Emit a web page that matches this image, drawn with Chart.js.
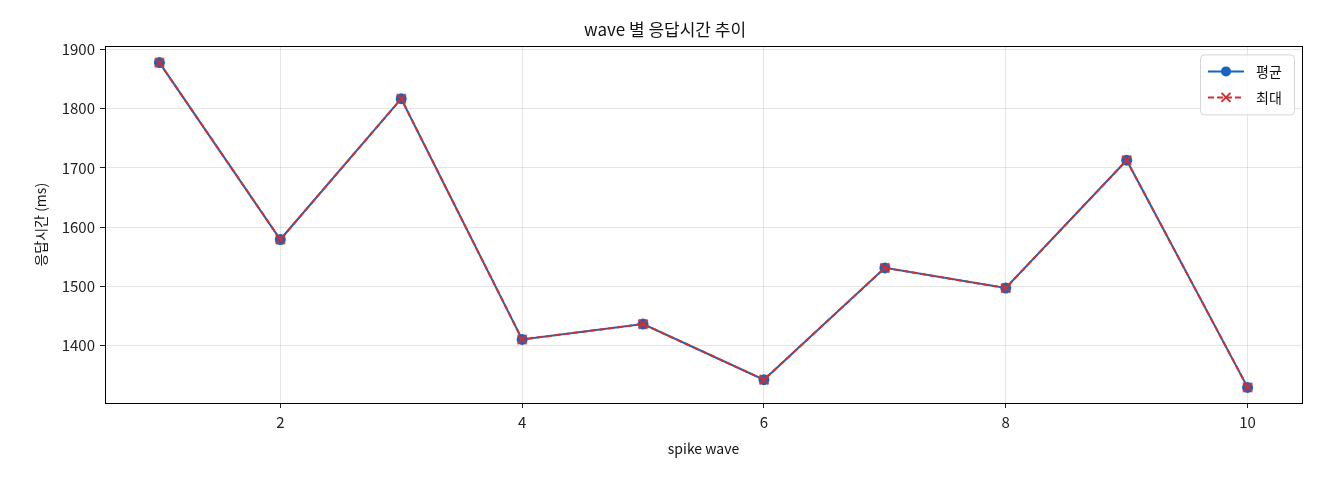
<!DOCTYPE html>
<html>
<head>
<meta charset="utf-8">
<script src="https://cdn.jsdelivr.net/npm/chart.js@4/dist/chart.umd.min.js"></script>
<style>
  html, body { margin: 0; padding: 0; background: #fff; }
  #wrap { width: 1320px; height: 480px; }
</style>
</head>
<body>
<div id="wrap"><canvas id="myChart" width="1320" height="480"></canvas></div>
<script>
const waves = [1, 2, 3, 4, 5, 6, 7, 8, 9, 10];
const meanMs = [1878, 1579, 1817, 1410, 1436, 1342, 1531, 1497, 1713, 1329];
const maxMs = [1878, 1579, 1817, 1410, 1436, 1342, 1531, 1497, 1713, 1329];
const xTicks = [2, 4, 6, 8, 10];
const yTicks = [1400, 1500, 1600, 1700, 1800, 1900];

const FONT = "'Noto Sans CJK KR', 'Noto Sans', sans-serif";
const BLUE = '#1565c0';
const RED = '#d32f2f';

function drawCross(ctx, x, y, r) {
  ctx.beginPath();
  ctx.moveTo(x - r, y - r); ctx.lineTo(x + r, y + r);
  ctx.moveTo(x - r, y + r); ctx.lineTo(x + r, y - r);
  ctx.stroke();
}

// full frame round the plot + legend inside, top right, like matplotlib
const innerLegend = {
  id: 'innerLegend',
  afterDraw(chart) {
    const {ctx, chartArea: {left, right, top, bottom}} = chart;
    ctx.save();
    ctx.strokeStyle = '#000';
    ctx.lineWidth = 1;
    ctx.strokeRect(Math.round(left) + 0.5, Math.round(top) + 0.5, Math.round(right - left), Math.round(bottom - top));

    const w = 94, h = 60;
    const x0 = right - w - 8, y0 = top + 8;
    ctx.fillStyle = 'rgba(255,255,255,0.85)';
    ctx.strokeStyle = '#d6d6d6';
    ctx.lineWidth = 1;
    ctx.beginPath();
    ctx.roundRect(x0 + 0.5, y0 + 0.5, w, h, 4);
    ctx.fill(); ctx.stroke();
    ctx.font = '14px ' + FONT;
    ctx.textBaseline = 'middle';
    // 평균
    let ly = y0 + 17;
    ctx.strokeStyle = BLUE; ctx.lineWidth = 2; ctx.setLineDash([]);
    ctx.beginPath(); ctx.moveTo(x0 + 8, ly); ctx.lineTo(x0 + 44, ly); ctx.stroke();
    ctx.fillStyle = BLUE;
    ctx.beginPath(); ctx.arc(x0 + 26, ly, 5, 0, Math.PI * 2); ctx.fill();
    ctx.fillStyle = '#111';
    ctx.fillText('평균', x0 + 56, ly);
    // 최대
    ly = y0 + 43;
    ctx.strokeStyle = RED; ctx.setLineDash([6, 3]);
    ctx.beginPath(); ctx.moveTo(x0 + 8, ly); ctx.lineTo(x0 + 44, ly); ctx.stroke();
    ctx.setLineDash([]);
    drawCross(ctx, x0 + 26, ly, 4.5);
    ctx.fillStyle = '#111';
    ctx.fillText('최대', x0 + 56, ly);
    ctx.restore();
  }
};

const crossStyle = (() => {
  const c = document.createElement('canvas');
  c.width = 12; c.height = 12;
  const g = c.getContext('2d');
  g.strokeStyle = RED; g.lineWidth = 2;
  drawCross(g, 6, 6, 4.5);
  return c;
})();

new Chart(document.getElementById('myChart'), {
  type: 'line',
  plugins: [innerLegend],
  data: {
    datasets: [
      {
        label: '평균',
        data: waves.map((w, i) => ({x: w, y: meanMs[i]})),
        borderColor: BLUE,
        backgroundColor: BLUE,
        borderWidth: 2,
        pointRadius: 5.5,
        pointStyle: 'circle',
        pointBorderWidth: 0,
        order: 2
      },
      {
        label: '최대',
        data: waves.map((w, i) => ({x: w, y: maxMs[i]})),
        borderColor: RED,
        backgroundColor: RED,
        borderWidth: 2,
        borderDash: [6, 3],
        pointStyle: crossStyle,
        pointRadius: 5,
        order: 1
      }
    ]
  },
  options: {
    responsive: false,
    animation: false,
    devicePixelRatio: 1,
    layout: { padding: { left: 28, right: 18, top: 0, bottom: 19 } },
    plugins: {
      legend: { display: false },
      tooltip: { enabled: false },
      title: {
        display: true,
        text: 'wave 별 응답시간 추이',
        color: '#111',
        font: { family: FONT, size: 17, weight: 'normal' },
        padding: { top: 19, bottom: 7 }
      }
    },
    scales: {
      x: {
        type: 'linear',
        min: 0.55,
        max: 10.45,
        afterBuildTicks: axis => { axis.ticks = xTicks.map(v => ({value: v})); },
        afterFit: axis => { axis.height = 58; },
        ticks: { color: '#222', font: { family: FONT, size: 15 }, padding: 5 },
        grid: { color: 'rgba(0,0,0,0.1)', tickColor: '#222', tickLength: 5 },
        border: { color: '#000', width: 1 },
        title: {
          display: true,
          text: 'spike wave',
          color: '#111',
          font: { family: FONT, size: 14 },
          padding: { top: 0 }
        }
      },
      y: {
        min: 1302.6,
        max: 1905.4,
        afterBuildTicks: axis => { axis.ticks = yTicks.map(v => ({value: v})); },
        afterFit: axis => { axis.width = 77; },
        ticks: {
          color: '#222', font: { family: FONT, size: 15 }, padding: 5,
          callback: v => String(v)
        },
        grid: { color: 'rgba(0,0,0,0.1)', tickColor: '#222', tickLength: 5 },
        border: { color: '#000', width: 1 },
        title: {
          display: true,
          text: '응답시간 (ms)',
          color: '#111',
          font: { family: FONT, size: 14 },
          padding: { bottom: 0 }
        }
      }
    }
  }
});
</script>
</body>
</html>
